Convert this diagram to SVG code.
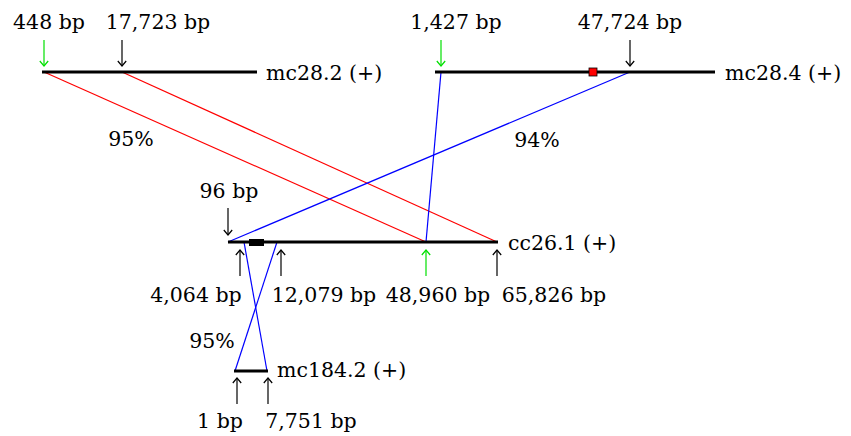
<svg xmlns="http://www.w3.org/2000/svg" width="851" height="436" viewBox="0 0 851 436">
<style>
text{font-family:"DejaVu Serif","Liberation Serif",serif;font-size:20.5px;fill:#000}
.m{text-anchor:middle}
.chr{stroke:#000;stroke-width:3;fill:none}
.ar{stroke:#000;stroke-width:1.2;fill:none;marker-end:url(#hk)}
.arg{stroke:#00e000;stroke-width:1.2;fill:none;marker-end:url(#hg)}
.red{stroke:#ff0000;stroke-width:1.2;fill:none}
.blue{stroke:#0000ff;stroke-width:1.2;fill:none}
</style>
<defs>
<marker id="hk" viewBox="-6 -5 7 10" refX="0" refY="0" markerWidth="7" markerHeight="10" markerUnits="userSpaceOnUse" orient="auto"><path d="M-5,-4.2 L0,0 L-5,4.2" fill="none" stroke="#000" stroke-width="1.2"/></marker>
<marker id="hg" viewBox="-6 -5 7 10" refX="0" refY="0" markerWidth="7" markerHeight="10" markerUnits="userSpaceOnUse" orient="auto"><path d="M-5,-4.2 L0,0 L-5,4.2" fill="none" stroke="#00e000" stroke-width="1.2"/></marker>
</defs>
<g id="connectors">
<line class="red" x1="44" y1="72" x2="426" y2="242"/>
<line class="red" x1="122" y1="72" x2="497" y2="242"/>
<line class="blue" x1="441" y1="72" x2="426" y2="242"/>
<line class="blue" x1="630" y1="72" x2="228" y2="242"/>
<line class="blue" x1="244" y1="242" x2="267" y2="371"/>
<line class="blue" x1="277" y1="242" x2="235" y2="371"/>
<text class="m" x="131" y="146">95%</text>
<text class="m" x="537" y="147">94%</text>
<text class="m" x="212" y="348">95%</text>
</g>
<g id="mc28.2">
<line class="chr" x1="42" y1="72" x2="257" y2="72"/>
<line class="arg" x1="44" y1="40" x2="44" y2="66"/>
<line class="ar" x1="122" y1="40" x2="122" y2="66"/>
<text class="m" x="49" y="29">448 bp</text>
<text class="m" x="158" y="29">17,723 bp</text>
<text x="266" y="80">mc28.2 (+)</text>
</g>
<g id="mc28.4">
<line class="chr" x1="435" y1="72" x2="715" y2="72"/>
<rect x="589" y="68" width="8" height="8" fill="#ff0000" stroke="#000" stroke-width="0.8"/>
<line class="arg" x1="441" y1="40" x2="441" y2="66"/>
<line class="ar" x1="630" y1="40" x2="630" y2="66"/>
<text class="m" x="456" y="29">1,427 bp</text>
<text class="m" x="630" y="29">47,724 bp</text>
<text x="725" y="80">mc28.4 (+)</text>
</g>
<g id="cc26.1">
<line class="chr" x1="228" y1="242" x2="498" y2="242"/>
<rect x="249" y="239" width="15" height="7" fill="#000"/>
<line class="ar" x1="228" y1="208" x2="228" y2="235"/>
<line class="ar" x1="240" y1="276" x2="240" y2="250"/>
<line class="ar" x1="281" y1="276" x2="281" y2="250"/>
<line class="arg" x1="426" y1="276" x2="426" y2="250"/>
<line class="ar" x1="497" y1="276" x2="497" y2="250"/>
<text class="m" x="229" y="198">96 bp</text>
<text x="508" y="250">cc26.1 (+)</text>
<text class="m" x="196" y="302">4,064 bp</text>
<text class="m" x="324" y="302">12,079 bp</text>
<text class="m" x="438" y="302">48,960 bp</text>
<text class="m" x="554" y="302">65,826 bp</text>
</g>
<g id="mc184.2">
<line class="chr" x1="234" y1="371" x2="268" y2="371"/>
<line class="ar" x1="237" y1="404" x2="237" y2="378"/>
<line class="ar" x1="268" y1="404" x2="268" y2="378"/>
<text x="277" y="377">mc184.2 (+)</text>
<text class="m" x="220" y="428">1 bp</text>
<text class="m" x="311" y="428">7,751 bp</text>
</g>
</svg>
